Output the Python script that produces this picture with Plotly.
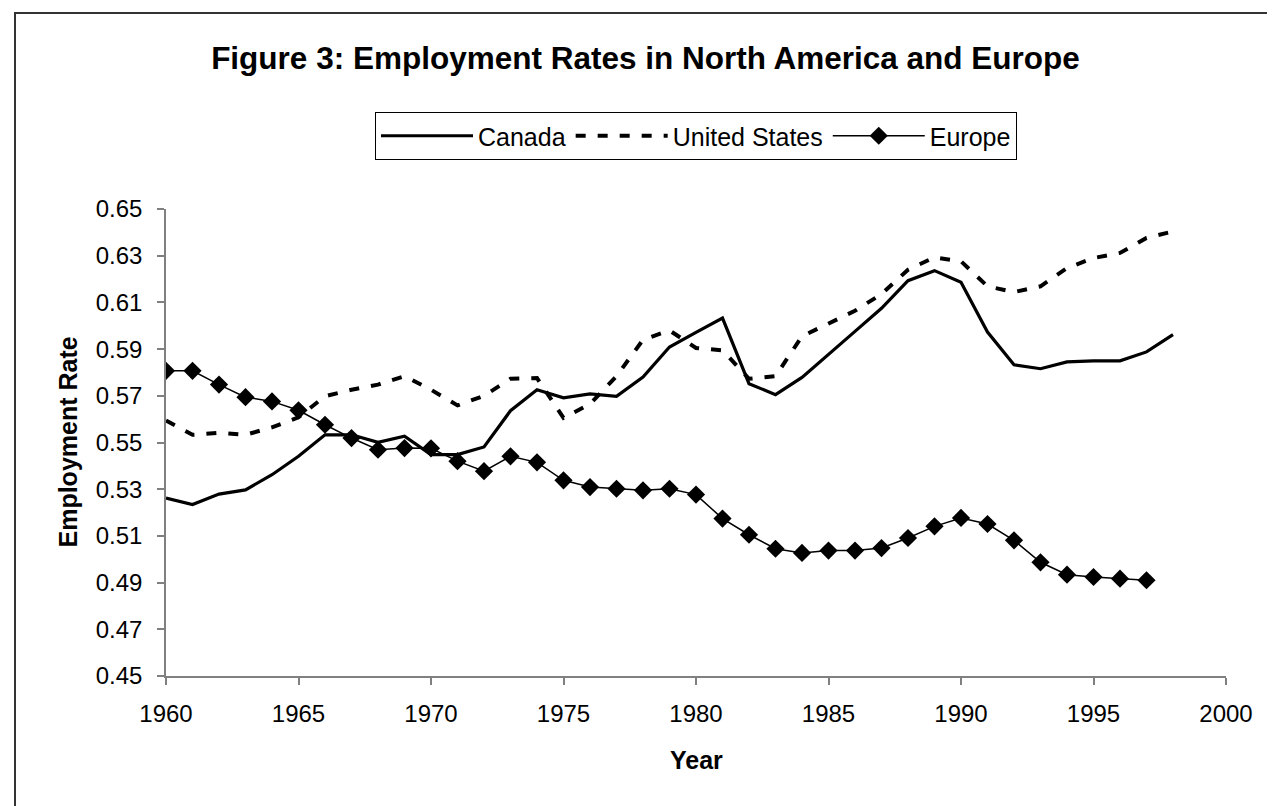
import plotly.graph_objects as go

years = list(range(1960, 1999))
canada = [0.5262, 0.5234, 0.5279, 0.5297, 0.5362, 0.5441, 0.5533, 0.5533, 0.5501, 0.5527,
          0.5448, 0.5448, 0.5481, 0.5636, 0.5726, 0.5691, 0.5708, 0.5698, 0.5780, 0.5909,
          0.5972, 0.6033, 0.5752, 0.5705, 0.5779, 0.5876, 0.5976, 0.6075, 0.6193, 0.6236,
          0.6186, 0.5973, 0.5833, 0.5816, 0.5845, 0.5850, 0.5850, 0.5888, 0.5962]
united_states = [0.5594, 0.5533, 0.5541, 0.5533, 0.5565, 0.5608, 0.5698, 0.5726, 0.5748, 0.5784,
                 0.5726, 0.5659, 0.5700, 0.5773, 0.5776, 0.5605, 0.5665, 0.5784, 0.5940, 0.5980,
                 0.5905, 0.5895, 0.5773, 0.5784, 0.5955, 0.6008, 0.6064, 0.6136, 0.6240, 0.6293,
                 0.6276, 0.6169, 0.6144, 0.6169, 0.6247, 0.6290, 0.6312, 0.6376, 0.6404]
europe_years = list(range(1960, 1998))
europe = [0.5807, 0.5807, 0.5748, 0.5694, 0.5676, 0.5638, 0.5576, 0.5519, 0.5469, 0.5476,
          0.5475, 0.5420, 0.5377, 0.5441, 0.5415, 0.5338, 0.5309, 0.5302, 0.5295, 0.5302,
          0.5277, 0.5174, 0.5105, 0.5045, 0.5027, 0.5037, 0.5037, 0.5048, 0.5091, 0.5141,
          0.5177, 0.5151, 0.5081, 0.4987, 0.4934, 0.4924, 0.4917, 0.4910]

FONT = "Arial, Liberation Sans, sans-serif"

fig = go.Figure()
fig.add_trace(go.Scatter(x=years, y=canada, name="Canada", mode="lines",
                         line=dict(color="black", width=3.2)))
fig.add_trace(go.Scatter(x=years, y=united_states, name="United States", mode="lines",
                         line=dict(color="black", width=4, dash="10px,12px")))
fig.add_trace(go.Scatter(x=europe_years, y=europe, name="Europe", mode="lines+markers",
                         line=dict(color="black", width=1.5),
                         marker=dict(symbol="diamond", size=14, color="black")))

W, H = 1275, 806
L, R, T, B = 158, 57, 201, 138
pw, ph = W - L - R, H - T - B

def px_x(p):
    return (p - L) / pw

def px_y(p):
    return (H - B - p) / ph

fig.update_layout(
    width=W, height=H,
    margin=dict(l=L, r=R, t=T, b=B),
    paper_bgcolor="white", plot_bgcolor="white",
    font=dict(family=FONT, size=24, color="black"),
    title=dict(text="<b>Figure 3: Employment Rates in North America and Europe</b>",
               x=0.5, xanchor="center", xref="container",
               y=1 - 50 / H, yanchor="middle", yref="container",
               font=dict(family=FONT, size=31.5, color="black")),
    showlegend=True,
    legend=dict(orientation="h", x=0.5, xanchor="center", y=px_y(104), yanchor="top",
                bordercolor="black", borderwidth=1, bgcolor="white",
                font=dict(family=FONT, size=25, color="black"),
                itemwidth=92, tracegroupgap=0),
    xaxis=dict(range=[1960, 2000], dtick=5, tick0=1960, showgrid=False, zeroline=False,
               showline=True, linecolor="#808080", linewidth=1.5,
               ticks="outside", ticklen=7, tickcolor="#808080", tickwidth=1.5,
               ticklabelstandoff=8,
               tickfont=dict(family=FONT, size=24, color="black")),
    yaxis=dict(range=[0.45, 0.65], dtick=0.02, tick0=0.45, tickformat=".2f",
               showgrid=False, zeroline=False,
               showline=True, linecolor="#808080", linewidth=1.5,
               ticks="outside", ticklen=7, tickcolor="#808080", tickwidth=1.5,
               ticklabelstandoff=10,
               tickfont=dict(family=FONT, size=24, color="black")),
    annotations=[
        dict(text="<b>Employment Rate</b>", xref="paper", yref="paper",
             x=px_x(59), y=0.5, textangle=-90, showarrow=False,
             xanchor="center", yanchor="middle",
             font=dict(family=FONT, size=25, color="black")),
        dict(text="<b>Year</b>", xref="paper", yref="paper",
             x=0.5, y=px_y(752), showarrow=False,
             xanchor="center", yanchor="middle",
             font=dict(family=FONT, size=25, color="black")),
    ],
    shapes=[
        dict(type="rect", xref="paper", yref="paper",
             x0=px_x(7), x1=px_x(1273), y0=px_y(812), y1=px_y(5),
             line=dict(color="#333333", width=2), fillcolor="rgba(0,0,0,0)", layer="below"),
    ],
)

fig.write_html("out.html")
